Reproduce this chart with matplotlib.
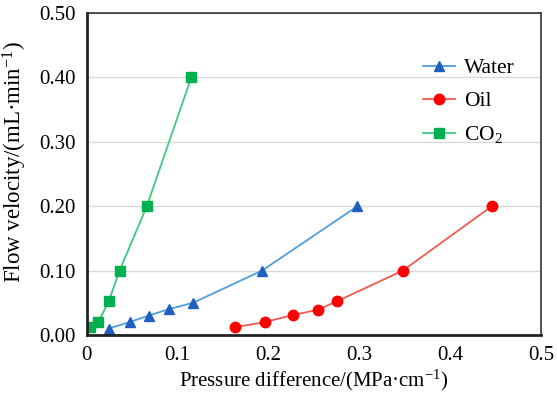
import matplotlib
matplotlib.use("Agg")
import matplotlib.pyplot as plt

plt.rcParams['font.family'] = ['Liberation Serif', 'DejaVu Serif']
plt.rcParams['mathtext.fontset'] = 'custom'
plt.rcParams['mathtext.rm'] = 'Liberation Serif'
plt.rcParams['mathtext.it'] = 'Liberation Serif:italic'

# data
water_x = [0.024, 0.047, 0.068, 0.090, 0.117, 0.193, 0.298]
water_y = [0.01, 0.02, 0.03, 0.04, 0.05, 0.10, 0.20]
oil_x = [0.163, 0.196, 0.227, 0.254, 0.275, 0.348, 0.446]
oil_y = [0.012, 0.02, 0.031, 0.039, 0.052, 0.10, 0.20]
co2_x = [0.003, 0.0125, 0.024, 0.036, 0.066, 0.115]
co2_y = [0.013, 0.02, 0.052, 0.10, 0.20, 0.40]

xticks = [0, 0.1, 0.2, 0.3, 0.4, 0.5]
xticklabels = ['0', '0.1', '0.2', '0.3', '0.4', '0.5']
yticks = [0, 0.1, 0.2, 0.3, 0.4, 0.5]
yticklabels = ['0.00', '0.10', '0.20', '0.30', '0.40', '0.50']

fig = plt.figure(figsize=(5.57, 3.95), dpi=100)
ax = fig.add_axes([0.156, 0.152, 0.815, 0.815])

ax.plot(water_x, water_y, color='#4d9fde', lw=1.3, marker='^', ms=7.5,
        mfc='#1f5fc0', mec='#1f5fc0', label='Water')
ax.plot(oil_x, oil_y, color='#f05a50', lw=1.3, marker='o', ms=7.5,
        mfc='#ff0000', mec='#ff0000', label='Oil')
ax.plot(co2_x, co2_y, color='#40c97c', lw=1.3, marker='s', ms=7,
        mfc='#00b050', mec='#00b050', label=r'CO$_2$')

ax.set_xlim(0, 0.5)
ax.set_ylim(0, 0.5)
ax.set_xticks(xticks)
ax.set_xticklabels(xticklabels)
ax.set_yticks(yticks)
ax.set_yticklabels(yticklabels)
ax.tick_params(length=0, labelsize=15, pad=8)
ax.yaxis.grid(True, color='#d9d9d9', lw=1)
ax.set_axisbelow(True)

for s in ['left', 'bottom']:
    ax.spines[s].set_linewidth(2)
    ax.spines[s].set_color('#222222')
for s in ['top', 'right']:
    ax.spines[s].set_linewidth(1.2)
    ax.spines[s].set_color('#333333')

ax.set_xlabel('Pressure difference/(MPa·cm$^{-1}$)', fontsize=15, labelpad=2)
ax.set_ylabel('Flow velocity/(mL·min$^{-1}$)', fontsize=16.5)
ax.yaxis.set_label_coords(-0.128, 0.537)

ax.legend(loc='upper right', bbox_to_anchor=(0.985, 0.92), frameon=False,
          fontsize=15.5, handlelength=1.5, labelspacing=0.6, handletextpad=0.4)

fig.savefig('out.png', dpi=100)
